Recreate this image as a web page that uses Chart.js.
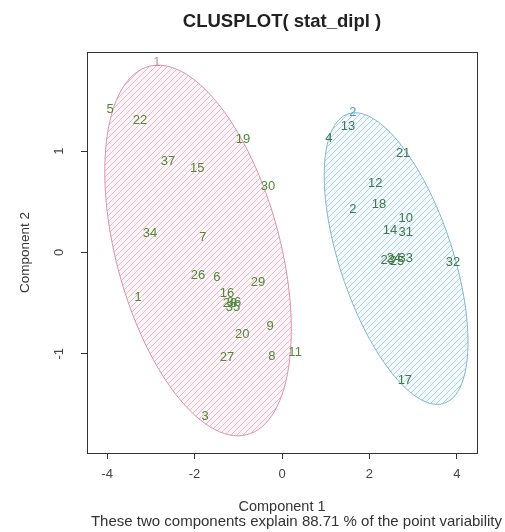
<!DOCTYPE html>
<html>
<head>
<meta charset="utf-8">
<script src="https://cdn.jsdelivr.net/npm/chart.js@4.4.1/dist/chart.umd.min.js"></script>
<style>
  body { margin: 0; background: #fff; }
  #clusplot { display: block; }
</style>
</head>
<body>
<canvas id="clusplot" width="505" height="532"></canvas>
<script>
// cluster 1 (pink) - labels and component scores
var pinkLabels = ['5', '22', '19', '37', '15', '30', '34', '7', '26', '6', '29', '1', '16', '28', '35', '36', '9', '20', '27', '8', '11', '3'];
var pinkX = [-3.93, -3.25, -0.89, -2.61, -1.94, -0.32, -3.02, -1.81, -1.92, -1.49, -0.55, -3.29, -1.26, -1.19, -1.12, -1.10, -0.27, -0.91, -1.26, -0.23, 0.30, -1.76];
var pinkY = [1.43, 1.32, 1.13, 0.91, 0.84, 0.66, 0.19, 0.15, -0.23, -0.25, -0.30, -0.45, -0.41, -0.51, -0.55, -0.50, -0.74, -0.82, -1.05, -1.04, -1.00, -1.64];

// cluster 2 (blue)
var blueLabels = ['4', '13', '21', '12', '2', '18', '10', '14', '31', '23', '24', '25', '33', '32', '17'];
var blueX = [1.07, 1.51, 2.77, 2.13, 1.62, 2.22, 2.83, 2.47, 2.83, 2.42, 2.56, 2.63, 2.83, 3.91, 2.81];
var blueY = [1.14, 1.26, 0.99, 0.69, 0.43, 0.48, 0.34, 0.22, 0.20, -0.08, -0.06, -0.09, -0.06, -0.10, -1.28];

// cluster numbers written on the ellipses
var clusterLabels = ['1', '2'];
var clusterX = [-2.86, 1.62];
var clusterY = [1.90, 1.40];

// ellipses: centre and two conjugate half axes (data units)
var ellipseCentres = [[-1.92, 0.02], [2.61, -0.06]];
var ellipseAxisA = [[-0.91, 1.83], [-0.94, 1.44]];
var ellipseAxisB = [[1.93, 0], [1.35, 0]];

var xTickValues = [-4, -2, 0, 2, 4];
var yTickValues = [-1, 0, 1];

var FONT = "'Liberation Sans', Arial, Helvetica, sans-serif";

function toPoints(xs, ys) {
    return xs.map(function (x, i) { return { x: x, y: ys[i] }; });
}

var canvas = document.getElementById('clusplot');
var ctx = canvas.getContext('2d');

function hatch(lineColor, bgColor) {
    var c = document.createElement('canvas');
    c.width = 6;
    c.height = 6;
    var g = c.getContext('2d');
    g.fillStyle = bgColor;
    g.fillRect(0, 0, 6, 6);
    g.strokeStyle = lineColor;
    g.lineWidth = 1;
    g.beginPath();
    g.moveTo(0, 6); g.lineTo(6, 0);
    g.moveTo(-1, 1); g.lineTo(1, -1);
    g.moveTo(5, 7); g.lineTo(7, 5);
    g.stroke();
    return ctx.createPattern(c, 'repeat');
}

var ellipseStyles = [
    { fill: hatch('#ecb9c8', '#fdf5f7'), border: '#d994aa' },
    { fill: hatch('#acd3e6', '#f3f9fc'), border: '#82b6d0' }
];

var ellipsePlugin = {
    id: 'ellipses',
    beforeDatasetsDraw: function (chart) {
        var xs = chart.scales.x, ys = chart.scales.y;
        var c = chart.ctx;
        c.save();
        c.beginPath();
        c.rect(chart.chartArea.left, chart.chartArea.top, chart.chartArea.width, chart.chartArea.height);
        c.clip();
        ellipseCentres.forEach(function (ctr, k) {
            var a = ellipseAxisA[k], b = ellipseAxisB[k];
            c.beginPath();
            for (var i = 0; i <= 120; i++) {
                var t = i / 120 * Math.PI * 2;
                var px = xs.getPixelForValue(ctr[0] + a[0] * Math.cos(t) + b[0] * Math.sin(t));
                var py = ys.getPixelForValue(ctr[1] + a[1] * Math.cos(t) + b[1] * Math.sin(t));
                if (i === 0) c.moveTo(px, py); else c.lineTo(px, py);
            }
            c.closePath();
            c.fillStyle = ellipseStyles[k].fill;
            c.fill();
            c.strokeStyle = ellipseStyles[k].border;
            c.lineWidth = 1;
            c.stroke();
        });
        c.restore();
    }
};

var textPlugin = {
    id: 'pointText',
    afterDatasetsDraw: function (chart) {
        var c = chart.ctx;
        c.save();
        c.textAlign = 'center';
        c.textBaseline = 'middle';
        chart.data.datasets.forEach(function (ds, i) {
            if (!ds.texts) return;
            c.font = ds.textFont;
            c.fillStyle = ds.textColor;
            chart.getDatasetMeta(i).data.forEach(function (el, j) {
                c.fillText(ds.texts[j], el.x, el.y);
            });
        });
        c.restore();
    }
};

var boxPlugin = {
    id: 'box',
    afterDraw: function (chart) {
        var a = chart.chartArea;
        var c = chart.ctx;
        c.save();
        c.strokeStyle = '#333';
        c.lineWidth = 1;
        c.strokeRect(Math.round(a.left) + 0.5, Math.round(a.top) + 0.5, Math.round(a.width), Math.round(a.height));
        c.restore();
    }
};

new Chart(ctx, {
    type: 'scatter',
    data: {
        datasets: [
            {
                data: toPoints(pinkX, pinkY),
                texts: pinkLabels,
                textColor: '#4e8a3c',
                textFont: '13px ' + FONT,
                pointRadius: 0
            },
            {
                data: toPoints(blueX, blueY),
                texts: blueLabels,
                textColor: '#3f7a45',
                textFont: '13px ' + FONT,
                pointRadius: 0
            },
            {
                data: [{ x: clusterX[0], y: clusterY[0] }],
                texts: [clusterLabels[0]],
                textColor: '#c98a9c',
                textFont: '13px ' + FONT,
                pointRadius: 0
            },
            {
                data: [{ x: clusterX[1], y: clusterY[1] }],
                texts: [clusterLabels[1]],
                textColor: '#4f9ccc',
                textFont: '13px ' + FONT,
                pointRadius: 0
            }
        ]
    },
    options: {
        responsive: false,
        animation: false,
        layout: { padding: { top: 0, right: 3, bottom: 0, left: 0 } },
        plugins: {
            legend: { display: false },
            tooltip: { enabled: false },
            subtitle: {
                display: true,
                position: 'bottom',
                align: 'end',
                text: 'These two components explain 88.71 % of the point variability',
                color: '#333',
                font: { family: FONT, size: 15, lineHeight: 1.0 },
                padding: { top: 0, bottom: 2.5 }
            }
        },
        scales: {
            // top axis only carries the main title, centred over the plot box
            top: {
                type: 'linear',
                position: 'top',
                min: -4.46,
                max: 4.46,
                afterFit: function (scale) { scale.height = 52; },
                border: { display: false },
                grid: { display: false },
                ticks: { display: false },
                title: {
                    display: true,
                    text: 'CLUSPLOT( stat_dipl )',
                    color: '#222',
                    font: { family: FONT, size: 18.5, weight: 'bold', lineHeight: 1.2 },
                    padding: { top: 10.9, bottom: 0 }
                }
            },
            // empty right margin
            right: {
                type: 'linear',
                position: 'right',
                afterFit: function (scale) { scale.width = 25; },
                border: { display: false },
                grid: { display: false },
                ticks: { display: false }
            },
            x: {
                type: 'linear',
                min: -4.46,
                max: 4.46,
                afterBuildTicks: function (scale) {
                    scale.ticks = xTickValues.map(function (v) { return { value: v }; });
                },
                afterFit: function (scale) { scale.height = 61.5; },
                border: { display: false },
                grid: { drawOnChartArea: false, drawTicks: true, tickLength: 6, color: '#333' },
                ticks: {
                    color: '#444',
                    padding: 8,
                    maxRotation: 0,
                    font: { family: FONT, size: 13 }
                },
                title: {
                    display: true,
                    text: 'Component 1',
                    color: '#333',
                    font: { family: FONT, size: 14.5, lineHeight: 1.03 },
                    padding: { top: 0, bottom: 0 }
                }
            },
            y: {
                type: 'linear',
                min: -1.98,
                max: 1.98,
                afterBuildTicks: function (scale) {
                    scale.ticks = yTickValues.map(function (v) { return { value: v }; });
                },
                afterFit: function (scale) { scale.width = 87; },
                border: { display: false },
                grid: { drawOnChartArea: false, drawTicks: true, tickLength: 6, color: '#333' },
                ticks: {
                    color: '#444',
                    padding: 16,
                    minRotation: 90,
                    maxRotation: 90,
                    crossAlign: 'center',
                    font: { family: FONT, size: 13 }
                },
                title: {
                    display: true,
                    text: 'Component 2',
                    color: '#333',
                    font: { family: FONT, size: 13.5, lineHeight: 1.15 },
                    padding: { top: 17.2, bottom: 0 }
                }
            }
        }
    },
    plugins: [ellipsePlugin, textPlugin, boxPlugin]
});
</script>
</body>
</html>
